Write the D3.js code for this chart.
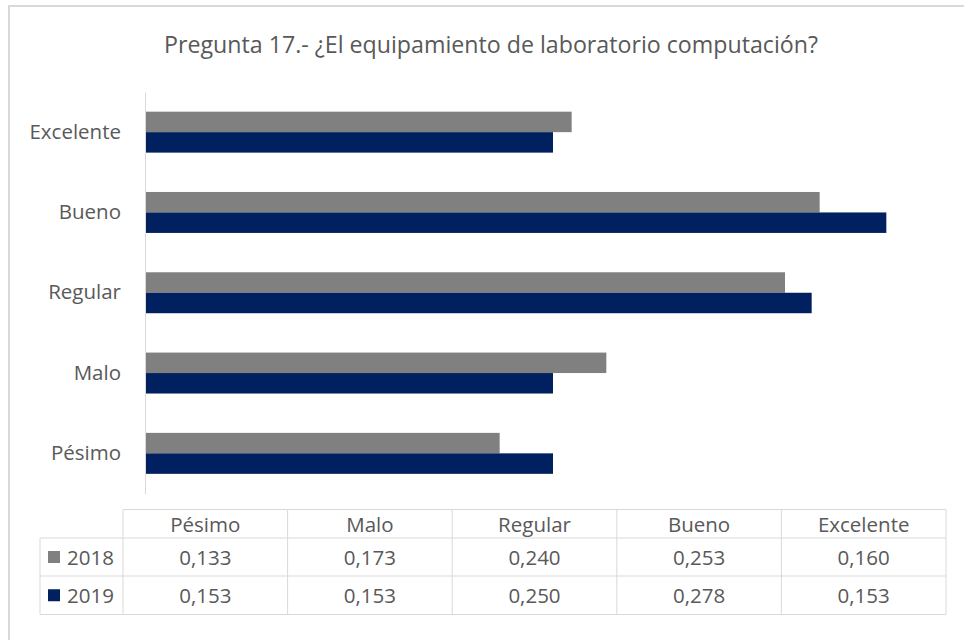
<!DOCTYPE html>
<html>
<head>
<meta charset="utf-8">
<script src="https://cdn.jsdelivr.net/npm/d3@7"></script>
<style>
  html, body { margin: 0; padding: 0; background: #ffffff; }
  svg { display: block; }
  text { font-family: "Open Sans", "Lato", sans-serif; fill: #595959; }
</style>
</head>
<body>
<svg id="chart" width="964" height="640"></svg>
<script>
const title = "Pregunta 17.- ¿El equipamiento de laboratorio computación?";
const categories = ["Pésimo", "Malo", "Regular", "Bueno", "Excelente"];
const seriesNames = ["2018", "2019"];
const values2018 = [0.133, 0.173, 0.240, 0.253, 0.160];
const values2019 = [0.153, 0.153, 0.250, 0.278, 0.153];
const seriesColors = ["#808080", "#002060"];

const series = [values2018, values2019];
const locale = d3.formatLocale({decimal: ",", thousands: ".", grouping: [3], currency: ["", ""]});
const fmt = locale.format(".3f");

const svg = d3.select("#chart");
const labelSize = "20.5px";

// chart frame
svg.append("rect")
  .attr("x", 9).attr("y", 6).attr("width", 1000).attr("height", 700)
  .attr("fill", "#ffffff").attr("stroke", "#d9d9d9").attr("stroke-width", 2);

// title
svg.append("text")
  .attr("x", 491).attr("y", 44)
  .attr("text-anchor", "middle").attr("dominant-baseline", "central")
  .style("font-size", "23.2px")
  .text(title);

// scales
const x = d3.scaleLinear().domain([0, 0.3]).range([145, 945]);
const y = d3.scaleBand().domain(categories.slice().reverse())
  .range([92, 493.5]).paddingInner(0.49).paddingOuter(0.245);
const ySub = d3.scaleBand().domain(seriesNames).range([0, y.bandwidth()]);

// bars
const g = svg.append("g");
categories.forEach((cat, ci) => {
  seriesNames.forEach((s, si) => {
    g.append("rect")
      .attr("x", x(0))
      .attr("y", y(cat) + ySub(s))
      .attr("width", x(series[si][ci]) - x(0))
      .attr("height", ySub.bandwidth())
      .attr("fill", seriesColors[si]);
  });
});

// y axis
const yAxis = d3.axisLeft(y).tickSize(0).tickPadding(24);
const ya = svg.append("g").attr("transform", `translate(${x(0)},0)`).call(yAxis);
ya.select(".domain").attr("stroke", "#d9d9d9").attr("stroke-width", 1);
ya.selectAll("text").style("font-size", labelSize).style("fill", "#595959")
  .style("font-family", "'Open Sans', sans-serif");

// data table
const colX = d3.scaleBand().domain(categories).range([123, 946]);
const rowY = [509.5, 538, 576, 614.5];
const tableLeft = 40;
const grid = "#d9d9d9";
const tg = svg.append("g");
tg.append("line").attr("x1", 123).attr("x2", 946).attr("y1", rowY[0]).attr("y2", rowY[0]).attr("stroke", grid);
for (let i = 1; i < rowY.length; i++) {
  tg.append("line").attr("x1", tableLeft).attr("x2", 946).attr("y1", rowY[i]).attr("y2", rowY[i]).attr("stroke", grid);
}
tg.append("line").attr("x1", tableLeft).attr("x2", tableLeft).attr("y1", rowY[1]).attr("y2", rowY[3]).attr("stroke", grid);
categories.forEach(c => {
  tg.append("line").attr("x1", colX(c)).attr("x2", colX(c)).attr("y1", rowY[0]).attr("y2", rowY[3]).attr("stroke", grid);
});
tg.append("line").attr("x1", 946).attr("x2", 946).attr("y1", rowY[0]).attr("y2", rowY[3]).attr("stroke", grid);

// header
categories.forEach(c => {
  tg.append("text")
    .attr("x", colX(c) + colX.bandwidth() / 2)
    .attr("y", (rowY[0] + rowY[1]) / 2)
    .attr("text-anchor", "middle").attr("dominant-baseline", "central")
    .style("font-size", labelSize)
    .text(c);
});
// rows
seriesNames.forEach((s, si) => {
  const cy = (rowY[si + 1] + rowY[si + 2]) / 2;
  tg.append("rect").attr("x", 48).attr("y", cy - 6).attr("width", 12).attr("height", 12)
    .attr("fill", seriesColors[si]);
  tg.append("text").attr("x", 67).attr("y", cy)
    .attr("dominant-baseline", "central").style("font-size", labelSize).text(s);
  categories.forEach((c, ci) => {
    tg.append("text")
      .attr("x", colX(c) + colX.bandwidth() / 2)
      .attr("y", cy)
      .attr("text-anchor", "middle").attr("dominant-baseline", "central")
      .style("font-size", labelSize)
      .text(fmt(series[si][ci]));
  });
});
</script>
</body>
</html>
